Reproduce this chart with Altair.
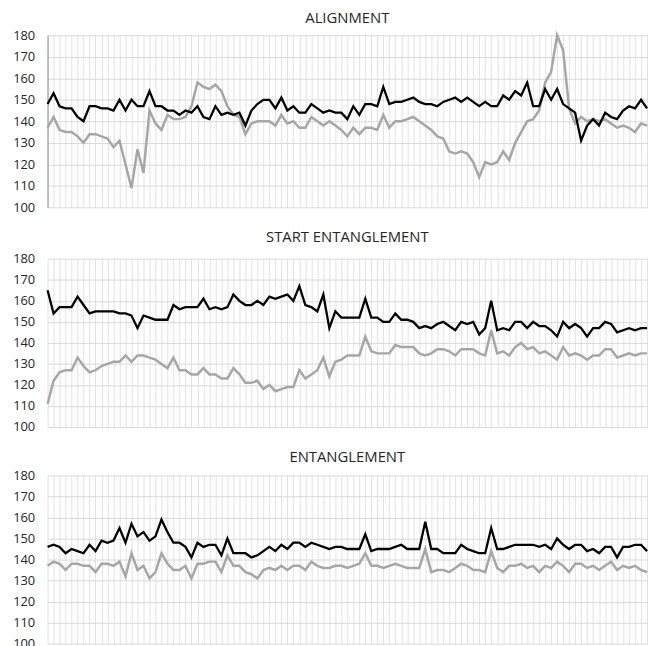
import altair as alt
import pandas as pd

# ---- data ----
ALIGN_BLACK = [148, 153, 147, 146, 146, 142, 140, 147, 147, 146, 146, 145, 150, 145, 150,
               147, 147, 154, 147, 147, 145, 145, 143, 145, 144, 147, 142, 141, 147, 143,
               144, 143, 144, 138, 145, 148, 150, 150, 146, 151, 145, 147, 144, 144, 148,
               146, 144, 145, 144, 144, 141, 147, 143, 148, 148, 147, 156, 148, 149, 149,
               150, 151, 149, 148, 148, 147, 149, 150, 151, 149, 151, 149, 147, 149, 147,
               147, 152, 150, 154, 152, 158, 147, 147, 155, 150, 155, 148, 146, 144, 131,
               138, 141, 138, 144, 142, 141, 145, 147, 146, 150, 146]
ALIGN_GRAY = [137, 142, 136, 135, 135, 133, 130, 134, 134, 133, 132, 128, 131, 120, 109,
              127, 116, 145, 139, 136, 143, 141, 141, 142, 147, 158, 156, 155, 157, 154,
              147, 143, 142, 134, 139, 140, 140, 140, 138, 143, 139, 140, 137, 137, 142,
              140, 138, 140, 138, 136, 133, 137, 134, 137, 137, 136, 143, 137, 140, 140,
              141, 142, 140, 138, 136, 133, 132, 126, 125, 126, 125, 121, 114, 121, 120,
              121, 126, 122, 130, 135, 140, 141, 145, 158, 163, 180, 173, 146, 139, 142,
              140, 141, 140, 141, 139, 137, 138, 137, 135, 139, 138]

START_BLACK = [165, 154, 157, 157, 157, 162, 158, 154, 155, 155, 155, 155, 154, 154, 153,
               147, 153, 152, 151, 151, 151, 158, 156, 157, 157, 157, 161, 156, 157, 156,
               157, 163, 160, 158, 158, 160, 158, 162, 161, 162, 163, 160, 167, 158, 157,
               155, 163, 147, 155, 152, 152, 152, 152, 161, 152, 152, 150, 150, 154, 151,
               151, 150, 147, 148, 147, 149, 150, 148, 146, 150, 149, 150, 144, 147, 160,
               146, 147, 146, 150, 150, 147, 150, 148, 148, 146, 143, 150, 147, 149, 147,
               143, 147, 147, 150, 149, 145, 146, 147, 146, 147, 147]
START_GRAY = [111, 122, 126, 127, 127, 133, 129, 126, 127, 129, 130, 131, 131, 134, 131,
              134, 134, 133, 132, 130, 128, 133, 127, 127, 125, 125, 128, 125, 125, 123,
              123, 128, 125, 121, 121, 122, 118, 120, 117, 118, 119, 119, 127, 123, 125,
              127, 133, 124, 131, 132, 134, 134, 134, 143, 136, 135, 135, 135, 139, 138,
              138, 138, 135, 134, 135, 137, 137, 136, 134, 137, 137, 137, 135, 134, 146,
              135, 136, 134, 138, 140, 137, 138, 135, 136, 134, 132, 138, 134, 135, 134,
              132, 134, 134, 137, 137, 133, 134, 135, 134, 135, 135]

ENT_BLACK = [146, 147, 146, 143, 145, 144, 143, 147, 144, 149, 148, 149, 155, 148, 157,
             151, 153, 149, 151, 159, 153, 148, 148, 146, 141, 148, 146, 147, 147, 142,
             150, 143, 143, 143, 141, 142, 144, 146, 144, 147, 145, 148, 148, 146, 148,
             147, 146, 145, 146, 146, 145, 145, 145, 152, 144, 145, 145, 145, 146, 147,
             145, 145, 145, 158, 145, 145, 143, 143, 143, 147, 145, 144, 143, 143, 155,
             145, 145, 146, 147, 147, 147, 147, 146, 147, 145, 150, 147, 145, 147, 147,
             144, 145, 143, 146, 146, 141, 146, 146, 147, 147, 144]
ENT_GRAY = [137, 139, 138, 135, 138, 138, 137, 137, 134, 138, 138, 137, 139, 132, 143,
            135, 137, 131, 134, 143, 138, 135, 135, 137, 131, 138, 138, 139, 139, 134,
            142, 137, 137, 134, 133, 131, 135, 136, 135, 137, 135, 137, 137, 135, 139,
            137, 136, 136, 137, 137, 136, 137, 138, 143, 137, 137, 136, 137, 138, 137,
            136, 136, 136, 145, 134, 135, 135, 134, 136, 138, 137, 135, 135, 134, 144,
            136, 134, 137, 137, 138, 136, 137, 134, 137, 136, 139, 137, 134, 138, 138,
            136, 137, 135, 137, 139, 135, 137, 136, 137, 135, 134]

TITLES = ["ALIGNMENT", "START ENTANGLEMENT", "ENTANGLEMENT"]
Y_TICKS = [100, 110, 120, 130, 140, 150, 160, 170, 180]

FONT = "Open Sans"


def panel(title, black, gray, height, y_domain_line, title_offset):
    n = max(len(black), len(gray))
    df_b = pd.DataFrame({"idx": list(range(len(black))), "val": black})
    df_g = pd.DataFrame({"idx": list(range(len(gray))), "val": gray})
    x = alt.X("idx:Q",
              scale=alt.Scale(domain=[0, n - 1], nice=False, zero=False),
              axis=alt.Axis(values=list(range(n)), labels=False, ticks=False,
                            domain=False, grid=True, gridColor="#e2e2e2",
                            gridWidth=1, title=None))
    yaxis = alt.Axis(values=Y_TICKS, grid=True, gridColor="#d9d9d9", gridWidth=1,
                     ticks=False, title=None, labelFontSize=13, labelColor="#262626",
                     labelFont=FONT, labelPadding=13, minExtent=40, maxExtent=40,
                     domain=y_domain_line, domainColor="#b0b0b0", domainWidth=1.5)
    y = alt.Y("val:Q", scale=alt.Scale(domain=[100, 180], nice=False, zero=False),
              axis=yaxis)
    g = alt.Chart(df_g).mark_line(color="#a6a6a6", strokeWidth=2.5,
                                  strokeJoin="miter").encode(x=x, y=y)
    b = alt.Chart(df_b).mark_line(color="#000000", strokeWidth=2.3,
                                  strokeJoin="miter").encode(x=x, y=y)
    return alt.layer(g, b).properties(
        width=606, height=height,
        title=alt.TitleParams(title, fontSize=15, fontWeight="normal", color="#262626",
                              font=FONT, anchor="middle", offset=title_offset))


chart = alt.vconcat(
    panel(TITLES[0], ALIGN_BLACK, ALIGN_GRAY, 174, True, 3),
    panel(TITLES[1], START_BLACK, START_GRAY, 170, False, 8),
    panel(TITLES[2], ENT_BLACK, ENT_GRAY, 170, False, 5),
    spacing=16,
).configure_view(stroke=None).properties(padding=0)

chart.save("out.html", embed_options={"renderer": "svg", "actions": False})
